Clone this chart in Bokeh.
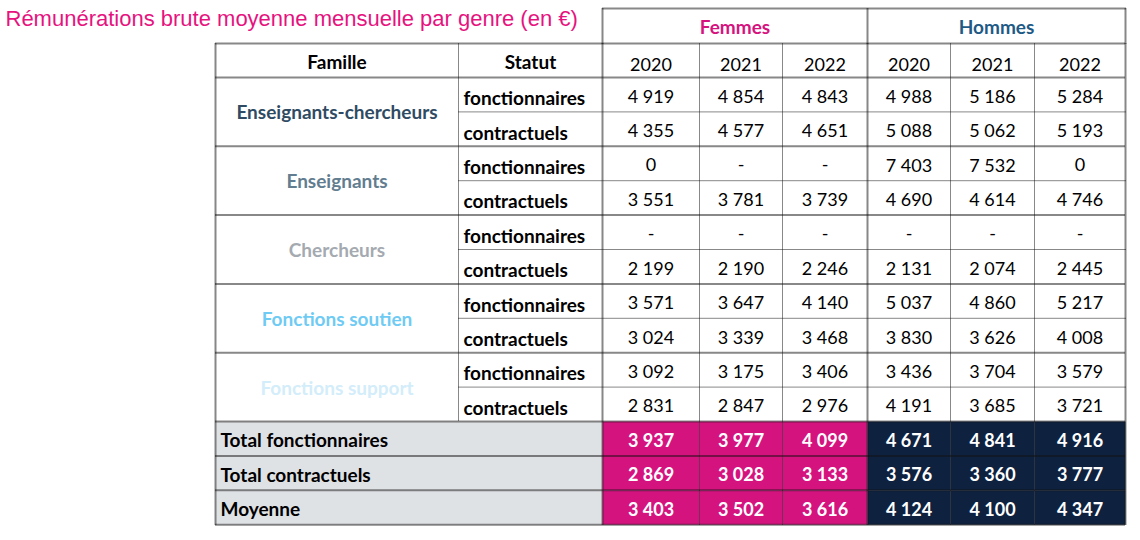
from bokeh.plotting import figure
from bokeh.models import Range1d, ColumnDataSource
from bokeh.core.properties import value
from bokeh.embed import file_html
from bokeh.resources import INLINE

# ---------------- data ----------------
title = "Rémunérations brute moyenne mensuelle par genre (en €)"
genres = ["Femmes", "Hommes"]
years = ["2020", "2021", "2022"]
families = ["Enseignants-chercheurs", "Enseignants", "Chercheurs",
            "Fonctions soutien", "Fonctions support"]
statuts = ["fonctionnaires", "contractuels"]
femmes_vals = [
    [4919, 4854, 4843], [4355, 4577, 4651],
    [0, None, None], [3551, 3781, 3739],
    [None, None, None], [2199, 2190, 2246],
    [3571, 3647, 4140], [3024, 3339, 3468],
    [3092, 3175, 3406], [2831, 2847, 2976],
]
hommes_vals = [
    [4988, 5186, 5284], [5088, 5062, 5193],
    [7403, 7532, 0], [4690, 4614, 4746],
    [None, None, None], [2131, 2074, 2445],
    [5037, 4860, 5217], [3830, 3626, 4008],
    [3436, 3704, 3579], [4191, 3685, 3721],
]
total_labels = ["Total fonctionnaires", "Total contractuels", "Moyenne"]
femmes_totals = [[3937, 3977, 4099], [2869, 3028, 3133], [3403, 3502, 3616]]
hommes_totals = [[4671, 4841, 4916], [3576, 3360, 3777], [4124, 4100, 4347]]

# ---------------- styles ----------------
FONT = "Lato"
BOLD_SIZE = "19px"
NUM_SIZE = "18px"
family_colors = ["#2F4B63", "#627D90", "#A4AAB0", "#6FCBF4", "#D3EDFA"]
genre_colors = ["#D5137F", "#1F5A86"]
total_bg = ["#D5137F", "#0E2240"]
label_bg = "#DFE2E5"
title_color = "#E6137F"

# ---------------- layout ----------------
W, H = 1130, 530
col_edges = [215, 458, 602, 699, 782, 867, 950, 1034, 1125]
header_top, header_mid, body_top = 8, 43, 77
row_h = 34.4
n_rows = len(families) * len(statuts)
n_tot = len(total_labels)
row_top = [body_top + i * row_h for i in range(n_rows + n_tot + 1)]
data_cols = list(range(2, 8))
col_c = [(col_edges[i] + col_edges[i + 1]) / 2 for i in range(8)]


def fmt(v):
    if v is None:
        return "-"
    return f"{v:,}".replace(",", " ")


p = figure(width=W, height=H, x_range=Range1d(0, W),
           y_range=Range1d(H, 0), output_backend="svg",
           toolbar_location=None, min_border=0)
p.axis.visible = False
p.grid.visible = False
p.outline_line_color = None
p.background_fill_color = "white"
p.border_fill_color = "white"

# backgrounds of total rows
ql, qr, qt, qb, qc = [], [], [], [], []
for k in range(n_tot):
    t = row_top[n_rows + k]
    b = row_top[n_rows + k + 1]
    ql.append(col_edges[0]); qr.append(col_edges[2]); qt.append(t); qb.append(b); qc.append(label_bg)
    for g in range(2):
        for j in range(3):
            c = 2 + g * 3 + j
            ql.append(col_edges[c]); qr.append(col_edges[c + 1]); qt.append(t); qb.append(b)
            qc.append(total_bg[g])
p.quad(left=ql, right=qr, top=qt, bottom=qb, fill_color=qc, line_color=None)

# ---------------- borders ----------------
thin = dict(x0=[], y0=[], x1=[], y1=[])
thick = dict(x0=[], y0=[], x1=[], y1=[])


def seg(d, x0, y0, x1, y1):
    d["x0"].append(x0); d["y0"].append(y0); d["x1"].append(x1); d["y1"].append(y1)


L, R = col_edges[0], col_edges[-1]
bottom = row_top[-1]
seg(thick, col_edges[2], header_top, R, header_top)
seg(thick, col_edges[2], header_top, col_edges[2], header_mid)
seg(thick, col_edges[5], header_top, col_edges[5], header_mid)
seg(thick, R, header_top, R, header_mid)
seg(thick, L, header_mid, R, header_mid)
seg(thick, L, body_top, R, body_top)
seg(thick, L, header_mid, L, bottom)
seg(thick, R, header_mid, R, bottom)
seg(thick, L, bottom, R, bottom)
for c in range(1, 8):
    ybot = row_top[n_rows] if c == 1 else bottom
    d = thick if c in (2, 5) else thin
    seg(d, col_edges[c], header_mid, col_edges[c], ybot)
for i in range(1, n_rows + n_tot):
    y = row_top[i]
    if i % 2 == 0 or i >= n_rows:
        seg(thick, L, y, R, y)
    else:
        seg(thin, col_edges[1], y, R, y)

p.segment(x0="x0", y0="y0", x1="x1", y1="y1", source=ColumnDataSource(thin),
          line_color="#111111", line_width=1, line_dash="1 1")
p.segment(x0="x0", y0="y0", x1="x1", y1="y1", source=ColumnDataSource(thick),
          line_color="#111111", line_width=2, line_dash="1 1")

# ---------------- texts ----------------
p.text(x=[5], y=[18], text=[title], text_font=value("Liberation Sans"),
       text_font_size="22px", text_color=title_color, text_align="left",
       text_baseline="middle")

gx = [(col_edges[2] + col_edges[5]) / 2, (col_edges[5] + col_edges[8]) / 2]
p.text(x=gx, y=[26, 26], text=genres, text_font=value(FONT), text_font_style="bold",
       text_font_size=BOLD_SIZE, text_color=genre_colors, text_align="center",
       text_baseline="middle")

p.text(x=[col_c[0], col_c[1]], y=[61, 61], text=["Famille", "Statut"],
       text_font=value(FONT), text_font_style="bold", text_font_size=BOLD_SIZE,
       text_color="black", text_align="center", text_baseline="middle")
p.text(x=[col_c[c] for c in data_cols], y=[64] * 6, text=years * 2,
       text_font=value(FONT), text_font_size=NUM_SIZE, text_color="black",
       text_align="center", text_baseline="middle")

fy = [row_top[2 * i + 1] for i in range(len(families))]
p.text(x=[col_c[0]] * len(families), y=fy, text=families, text_font=value(FONT),
       text_font_style="bold", text_font_size=BOLD_SIZE, text_color=family_colors,
       text_align="center", text_baseline="middle")

sy = [(row_top[i] + row_top[i + 1]) / 2 + 3 for i in range(n_rows)]
p.text(x=[col_edges[1] + 5] * n_rows, y=sy, text=statuts * len(families),
       text_font=value(FONT), text_font_style="bold", text_font_size=BOLD_SIZE,
       text_color="black", text_align="left", text_baseline="middle")

vx, vy, vt = [], [], []
for i in range(n_rows):
    yc = (row_top[i] + row_top[i + 1]) / 2 + 1
    for g, vals in enumerate([femmes_vals, hommes_vals]):
        for j in range(3):
            vx.append(col_c[2 + g * 3 + j]); vy.append(yc); vt.append(fmt(vals[i][j]))
p.text(x=vx, y=vy, text=vt, text_font=value(FONT), text_font_size=NUM_SIZE,
       text_color="black", text_align="center", text_baseline="middle")

ty = [(row_top[n_rows + k] + row_top[n_rows + k + 1]) / 2 + 1 for k in range(n_tot)]
p.text(x=[L + 5] * n_tot, y=ty, text=total_labels, text_font=value(FONT),
       text_font_style="bold", text_font_size=BOLD_SIZE, text_color="black",
       text_align="left", text_baseline="middle")
tx, tyy, tt = [], [], []
for k in range(n_tot):
    for g, vals in enumerate([femmes_totals, hommes_totals]):
        for j in range(3):
            tx.append(col_c[2 + g * 3 + j]); tyy.append(ty[k]); tt.append(fmt(vals[k][j]))
p.text(x=tx, y=tyy, text=tt, text_font=value(FONT), text_font_style="bold",
       text_font_size=NUM_SIZE, text_color="white", text_align="center",
       text_baseline="middle")

open("out.html", "w").write(file_html(p, INLINE))
